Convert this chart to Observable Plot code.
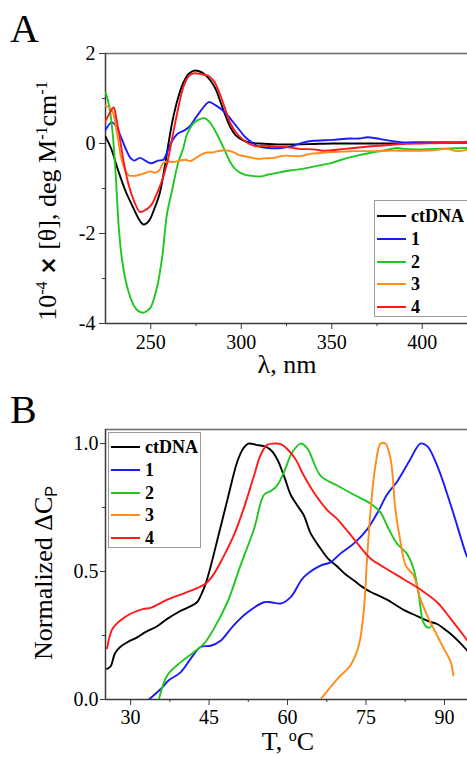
<!DOCTYPE html>
<html>
<head>
<meta charset="utf-8">
<script src="https://cdn.jsdelivr.net/npm/d3@7"></script>
<script src="https://cdn.jsdelivr.net/npm/@observablehq/plot@0.6"></script>
<style>
  html, body { margin:0; padding:0; background:#fff; }
  #wrap { position:relative; width:467px; height:757px; overflow:hidden; font-family:"Liberation Serif", serif; color:#000; }
  .panel { position:absolute; left:0; }
  .letter { position:absolute; font-size:40px; line-height:1; }
  .ytitle { position:absolute; transform:translate(-50%,-50%) rotate(-90deg); white-space:nowrap; font-size:26px; line-height:1; }
  .xtitle { position:absolute; transform:translate(-50%,-50%); white-space:nowrap; font-size:26px; line-height:0.8; }
  .sup { font-size:0.62em; position:relative; top:-0.55em; }
  .sub { font-size:0.62em; position:relative; top:0.3em; font-family:"Liberation Sans", sans-serif; }
  .times { font-family:"DejaVu Sans", sans-serif; font-weight:bold; font-size:0.85em; }
  .legend { position:absolute; border:1px solid #9a9a9a; background:#fff; box-sizing:border-box; }
  .legend .row { position:absolute; left:0; height:20px; display:flex; align-items:center; font-weight:bold; font-size:18px; line-height:1; }
  .legend .sw { display:inline-block; width:29px; height:2px; margin-left:2px; margin-right:5px; }
</style>
</head>
<body>
<div id="wrap">
  <div class="panel" id="panelA" style="top:0"></div>
  <div class="panel" id="panelB" style="top:380px"></div>
  <div class="letter" style="left:10px;top:9px">A</div>
  <div class="letter" style="left:10px;top:390px">B</div>
  <div class="ytitle" style="left:48px;top:201px">10<span class="sup">-4</span> <span class="times">×</span> [θ], deg M<span class="sup">-1</span>cm<span class="sup">-1</span></div>
  <div class="xtitle" style="left:287px;top:365px">λ, nm</div>
  <div class="ytitle" style="left:44px;top:573px">Normalized ΔC<span class="sub">P</span></div>
  <div class="xtitle" style="left:288px;top:742px">T, <span class="sup">o</span>C</div>
  <div class="legend" id="legA" style="left:374px;top:200px;width:94px;height:117px"></div>
  <div class="legend" id="legB" style="left:108px;top:432px;width:93px;height:116px"></div>
</div>
<script>
// ---------- shared series ----------
const seriesNames = ["ctDNA", "1", "2", "3", "4"];
const seriesColors = ["#000000", "#1a1aff", "#1fc71f", "#ff8c1a", "#ff1a1a"];

// ---------- Panel A: CD spectra  [wavelength nm, 10^-4 x theta] ----------
const xDomainA = [225, 425];
const yDomainA = [-4, 2];
const xTicksA = [250, 300, 350, 400];
const xMinorA = [275, 325, 375];
const yTicksA = [-4, -2, 0, 2];
const yMinorA = [-3, -1, 1];

const cdCtDNA = [[225,0.15],[228,-0.1],[232,-0.6],[236,-1.05],[240,-1.4],[243,-1.65],[246,-1.8],[249,-1.72],[252,-1.45],[255,-1.1],[258,-0.45],[260,0.05],[262,0.5],[265,1.0],[268,1.35],[271,1.55],[274,1.62],[277,1.6],[280,1.53],[283,1.4],[286,1.2],[288,0.98],[291,0.65],[294,0.36],[297,0.18],[301,0.07],[305,0.02],[310,0],[320,-0.02],[330,-0.02],[340,-0.01],[350,0],[360,0],[380,0],[400,0.01],[425,0.02]];
const cd1 = [[225,0.3],[228.5,0.47],[231,0.38],[233,0.2],[236,-0.1],[239,-0.33],[241,-0.38],[244,-0.32],[247,-0.38],[250,-0.44],[254,-0.38],[257,-0.36],[259,-0.2],[262,0.07],[265,0.22],[268,0.28],[271,0.36],[275,0.58],[279,0.8],[282,0.92],[285,0.87],[289,0.76],[293,0.6],[296,0.45],[299,0.3],[302,0.15],[306,0.02],[310,-0.07],[315,-0.1],[322,-0.1],[328,-0.06],[334,0.02],[340,0.06],[350,0.08],[360,0.11],[365,0.11],[370,0.14],[375,0.11],[381,0.07],[388,0.03],[400,0.03],[414,0.03],[425,0.02]];
const cd2 = [[225,1.14],[226.8,0.88],[228.7,0.33],[230.5,-0.6],[232.4,-1.9],[234.2,-2.6],[237,-3.19],[240.6,-3.6],[243,-3.72],[246,-3.76],[248,-3.72],[250,-3.64],[253.5,-3.19],[256.3,-2.53],[259,-1.56],[261.8,-1.04],[265,-0.45],[268,-0.1],[270,0.2],[273,0.42],[276,0.52],[280,0.56],[283,0.45],[286,0.25],[288.5,0.05],[291,-0.16],[294,-0.42],[297,-0.58],[301,-0.68],[306,-0.72],[311,-0.73],[315,-0.69],[320,-0.65],[327,-0.6],[333,-0.57],[338,-0.53],[344,-0.48],[350,-0.43],[357,-0.34],[364,-0.27],[371,-0.21],[378,-0.16],[386,-0.1],[390,-0.12],[397,-0.13],[405,-0.12],[415,-0.11],[425,-0.1]];
const cd3 = [[225,0.84],[227,0.8],[229,0.7],[231.4,0.21],[234,-0.38],[236,-0.6],[238,-0.71],[240,-0.72],[242.5,-0.71],[245,-0.68],[248,-0.64],[250,-0.62],[252.5,-0.65],[255,-0.58],[257,-0.43],[260,-0.4],[263,-0.41],[266,-0.38],[269,-0.36],[272,-0.39],[275,-0.32],[278,-0.24],[281,-0.2],[284,-0.2],[287,-0.17],[291,-0.15],[295,-0.18],[299,-0.26],[304,-0.3],[309,-0.34],[313,-0.33],[318,-0.32],[322,-0.28],[325,-0.27],[329,-0.28],[333,-0.28],[338,-0.23],[344,-0.21],[350,-0.19],[356,-0.18],[362,-0.17],[370,-0.17],[380,-0.16],[390,-0.16],[399,-0.16],[406,-0.15],[414,-0.12],[419,-0.17],[425,-0.14]];
const cd4 = [[225,0.5],[227,0.65],[229.5,0.8],[231,0.55],[233,0.1],[235,-0.4],[238,-0.95],[241,-1.3],[244,-1.52],[247,-1.48],[250,-1.38],[253,-1.15],[256,-0.85],[259,-0.45],[262,0.15],[265,0.75],[268,1.25],[271,1.5],[274,1.56],[278,1.54],[282,1.5],[285,1.38],[288,1.12],[291,0.78],[294,0.45],[297,0.25],[300,0.12],[304,0],[308,-0.06],[314,-0.05],[320,-0.07],[325,-0.08],[332,-0.12],[340,-0.13],[345,-0.16],[350,-0.15],[357,-0.12],[365,-0.09],[372,-0.06],[380,-0.04],[388,-0.01],[400,0],[410,0.01],[425,0.04]];

// ---------- Panel B: DSC  [T degC, normalized dCp] ----------
const xDomainB = [25.2, 94.4];
const yDomainB = [0, 1.055];
const xTicksB = [30, 45, 60, 75, 90];
const xMinorB = [37.5, 52.5, 67.5, 82.5];
const yTicksB = [0, 0.5, 1.0];
const yMinorB = [0.25, 0.75];

const dscCtDNA = [[25.5,0.12],[26.2,0.13],[27,0.18],[28,0.205],[29.5,0.225],[31,0.24],[33,0.265],[35,0.285],[37,0.315],[39,0.34],[41,0.36],[42.7,0.38],[43.5,0.41],[44.3,0.45],[45.3,0.52],[46.9,0.65],[48.5,0.78],[50.4,0.93],[51.5,0.98],[52.5,1.0],[54,0.995],[55.5,0.99],[56.8,0.975],[58,0.94],[59.3,0.875],[60.6,0.8],[61.8,0.76],[63.1,0.72],[64.4,0.65],[66.3,0.59],[68,0.545],[69.5,0.52],[71,0.49],[72.7,0.465],[74.3,0.44],[75.9,0.42],[77.5,0.405],[79,0.39],[80.6,0.37],[82.2,0.35],[83.8,0.335],[85.4,0.32],[87,0.305],[88.6,0.295],[90,0.275],[91.2,0.256],[92.8,0.225],[94.4,0.19]];
const dsc1 = [[33.5,0],[35.7,0.04],[37.3,0.075],[39.6,0.107],[41.5,0.16],[43.4,0.205],[45.3,0.21],[47.2,0.23],[49.7,0.29],[52.3,0.34],[55.5,0.38],[56.8,0.38],[58.7,0.375],[60.6,0.4],[63.1,0.478],[66.3,0.523],[68.2,0.536],[70.1,0.57],[72.7,0.61],[75.3,0.667],[77.2,0.73],[79,0.8],[80.9,0.85],[83.5,0.94],[85.4,1.0],[86.7,0.99],[88.6,0.914],[91.2,0.76],[94,0.575],[94.4,0.555]];
const dsc2 = [[35.4,0],[37,0.094],[39.6,0.146],[42.1,0.185],[44,0.217],[45.9,0.276],[48.5,0.38],[51,0.523],[53.6,0.667],[55.5,0.8],[56.8,0.815],[58,0.836],[59.3,0.888],[60.9,0.966],[62.5,1.0],[63.8,0.98],[66.3,0.875],[69.5,0.836],[72.7,0.8],[75.9,0.765],[77.8,0.73],[79,0.68],[80.9,0.61],[82.8,0.57],[84.1,0.51],[85.1,0.406],[86,0.3],[87,0.28],[87.6,0.29]];
const dsc3 = [[66.3,0],[69.5,0.08],[72,0.133],[73.6,0.21],[74.6,0.354],[75.2,0.55],[75.9,0.745],[76.8,0.914],[77.8,1.0],[78.7,1.0],[79.7,0.94],[80.6,0.745],[81.6,0.615],[82.6,0.523],[84.1,0.484],[85.4,0.393],[86.7,0.328],[88.6,0.25],[89.9,0.198],[91.2,0.146],[91.7,0.094]];
const dsc4 = [[25.5,0.2],[26.5,0.275],[28.1,0.31],[30,0.335],[32.5,0.354],[33.8,0.358],[37,0.39],[40.2,0.415],[42.7,0.435],[44.3,0.452],[45.9,0.49],[47.8,0.56],[49.7,0.64],[51.6,0.745],[53.6,0.875],[54.8,0.953],[56.1,0.995],[57.4,1.0],[58.7,0.998],[59.9,0.98],[61.5,0.94],[63.1,0.875],[65,0.81],[67.6,0.74],[69.5,0.705],[72.7,0.627],[75.9,0.55],[78.4,0.517],[82.2,0.47],[85.4,0.43],[88.6,0.38],[91.2,0.315],[94.4,0.23]];

// ---------- build tables ----------
function table(list) {
  const rows = [];
  list.forEach((pts, i) => pts.forEach(([x, y]) => rows.push({series: seriesNames[i], x, y})));
  return rows;
}
const rowsA = table([cdCtDNA, cd1, cd2, cd3, cd4]);
const rowsB = table([dscCtDNA, dsc1, dsc2, dsc3, dsc4]);

const axisColor = "#3a3a3a";
const frameColor = "#6a6a6a";

function makePlot(rows, o) {
  return Plot.plot({
    width: 467, height: o.height,
    marginTop: o.mt, marginBottom: o.mb, marginLeft: 105, marginRight: 0,
    style: {fontFamily: "Liberation Serif", fontSize: "20px", color: "#000", background: "#fff", overflow: "visible"},
    x: {domain: o.xd},
    y: {domain: o.yd},
    color: {domain: seriesNames, range: seriesColors},
    marks: [
      Plot.axisX({ticks: o.xt, tickSize: 6, tickPadding: o.xtp, label: null, stroke: axisColor, tickFormat: d => String(d)}),
      Plot.axisX({ticks: o.xm, tickSize: 3, label: null, stroke: axisColor, tickFormat: () => ""}),
      Plot.axisY({ticks: o.yt, tickSize: o.yts, tickPadding: o.ytp, label: null, stroke: axisColor, tickFormat: o.yf}),
      Plot.axisY({ticks: o.ym, tickSize: 3, label: null, stroke: axisColor, tickFormat: () => ""}),
      Plot.ruleY([o.yd[1]], {stroke: frameColor, strokeWidth: 1.5}),
      Plot.ruleY([o.yd[0]], {stroke: axisColor, strokeWidth: 1.5}),
      Plot.ruleX([o.xd[0]], {stroke: axisColor, strokeWidth: 1.5}),
      Plot.line(rows, {x: "x", y: "y", z: "series", stroke: "series", strokeWidth: 1.9, curve: "catmull-rom", clip: true})
    ]
  });
}

document.getElementById("panelA").appendChild(makePlot(rowsA, {
  height: 380, mt: 53, mb: 57, xd: xDomainA, yd: yDomainA, xtp: 5,
  xt: xTicksA, xm: xMinorA, yt: yTicksA, ym: yMinorA, yts: 6, ytp: 4, yf: d => String(d)
}));
document.getElementById("panelB").appendChild(makePlot(rowsB, {
  height: 377, mt: 49, mb: 58, xd: xDomainB, yd: yDomainB, xtp: 4,
  xt: xTicksB, xm: xMinorB, yt: yTicksB, ym: yMinorB, yts: 5, ytp: 2, yf: d => d.toFixed(1)
}));

// ---------- legends ----------
function legend(id, rowTops) {
  const el = document.getElementById(id);
  seriesNames.forEach((name, i) => {
    const r = document.createElement("div");
    r.className = "row";
    r.style.top = rowTops[i] + "px";
    const sw = document.createElement("span");
    sw.className = "sw";
    sw.style.background = seriesColors[i];
    r.appendChild(sw);
    r.appendChild(document.createTextNode(name));
    el.appendChild(r);
  });
}
legend("legA", [5, 27.75, 50.5, 73.25, 96]);
legend("legB", [4, 26.75, 49.5, 72.25, 95]);
</script>
</body>
</html>
